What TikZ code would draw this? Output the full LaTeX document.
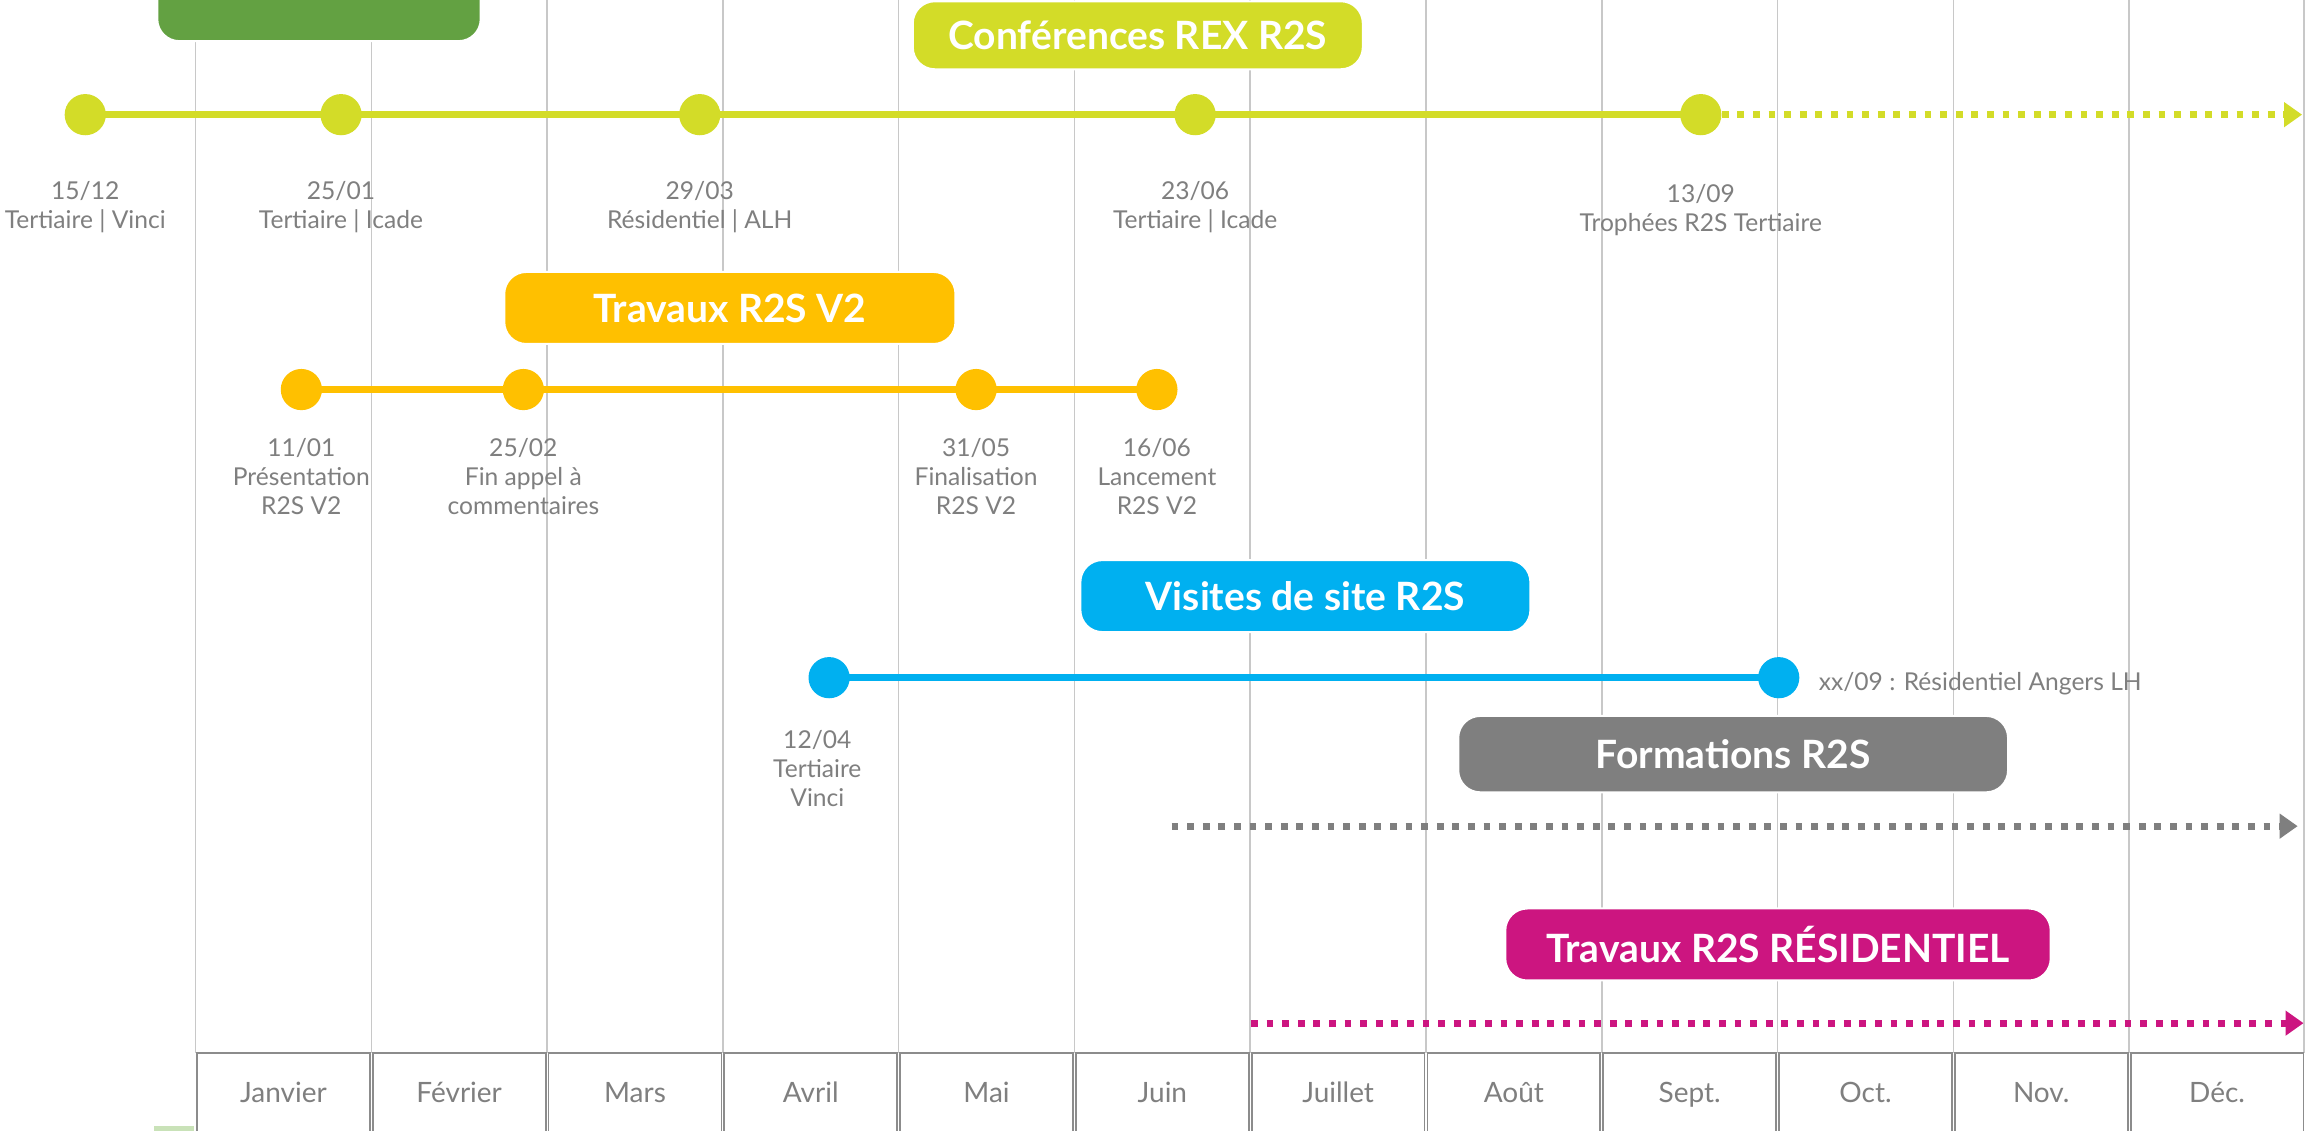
\documentclass[tikz,border=0pt]{standalone}
\usepackage{fontspec}
\setmainfont{Lato}
\usetikzlibrary{arrows.meta}
\definecolor{cLime}{HTML}{D3DC28}
\definecolor{cAmber}{HTML}{FFC000}
\definecolor{cBlue}{HTML}{00B0F0}
\definecolor{cGrey}{HTML}{7F7F7F}
\definecolor{cMag}{HTML}{CC1580}
\definecolor{cGreen}{HTML}{63A142}
\definecolor{cGridl}{HTML}{C8C8C8}
\definecolor{cText}{HTML}{7F7F7F}
\definecolor{cCell}{HTML}{8C8C8C}
\definecolor{cPale}{HTML}{C9E2B8}
\pgfdeclarelayer{back}
\pgfdeclarelayer{bg}
\pgfsetlayers{back,bg,main}
\begin{document}
\begin{tikzpicture}[x=0.735pt,y=-0.735pt,
  gridline/.style={draw=cGridl,line width=0.75pt},
  dotnode/.style={circle,fill=#1,minimum size=20.6pt,inner sep=0pt},
  solidline/.style={draw=#1,line width=3.6pt},
  dotline/.style={draw=#1,line width=3.6pt,dash pattern=on 3.4pt off 4.4pt,
     -{Triangle[length=9pt,width=12pt,fill=#1]}},
  titlebox/.style={fill=#1,draw=white,line width=1pt,rounded corners=11pt,
     text=white,font=\bfseries\fontsize{19.5}{22}\selectfont,inner sep=0pt},
  lbl/.style={text=cText,font=\fontsize{12.3}{14.4}\selectfont,align=center,inner sep=0pt},
  monthcell/.style={draw=cCell,line width=0.9pt},
  monthlbl/.style={text=cText,font=\fontsize{14}{16}\selectfont,inner sep=0pt,anchor=base}]
\useasboundingbox (0,0) rectangle (1568,769);

% grid and month table
\begin{pgfonlayer}{back}
\fill[white] (0,0) rectangle (1568,769);
\foreach \i in {0,...,12}{
  \draw[gridline] ({133+119.58*\i},0) -- ({133+119.58*\i},716);
}
\draw[gridline] (1567,0) -- (1567,716);
\end{pgfonlayer}
\foreach \m [count=\i from 0] in {Janvier,Février,Mars,Avril,Mai,Juin,Juillet,Août,Sept.,Oct.,Nov.,Déc.}{
  \draw[monthcell] ({133+119.58*\i+1},716.5) rectangle ({133+119.58*(\i+1)-1},790);
  \node[monthlbl] (m\i) at ({133+119.58*(\i+0.5)},750) {\m};
}
\fill[cPale] (105,766) rectangle (132,770);

% green box (top-left, mostly cut)
\node[titlebox=cGreen,minimum width=161.7pt,minimum height=42.6pt] (green) at (217,-1) {};

% Row 1: Conferences REX R2S
\node[titlebox=cLime,minimum width=225pt,minimum height=34pt] (t1) at (774,24) {Conférences REX R2S};
\node[dotnode=cLime] (a1) at (58,78) {};
\node[dotnode=cLime] (a2) at (232,78) {};
\node[dotnode=cLime] (a3) at (476,78) {};
\node[dotnode=cLime] (a4) at (813,78) {};
\node[dotnode=cLime] (a5) at (1157,78) {};
\coordinate (a6) at (1566,78);
\begin{pgfonlayer}{bg}
\draw[solidline=cLime] (a1.center) -- (a5.center);
\draw[dotline=cLime] (a5.east) -- (a6);
\end{pgfonlayer}
\node[lbl] (la1) at (58,141) {15/12\\Tertiaire | Vinci};
\node[lbl] (la2) at (232,141) {25/01\\Tertiaire | Icade};
\node[lbl] (la3) at (476,141) {29/03\\Résidentiel | ALH};
\node[lbl] (la4) at (813,141) {23/06\\Tertiaire | Icade};
\node[lbl] (la5) at (1157,143) {13/09\\Trophées R2S Tertiaire};

% Row 2: Travaux R2S V2
\node[titlebox=cAmber,minimum width=225.6pt,minimum height=36pt] (t2) at (496.5,209.5) {Travaux R2S V2};
\node[dotnode=cAmber] (b1) at (205,265) {};
\node[dotnode=cAmber] (b2) at (356,265) {};
\node[dotnode=cAmber] (b3) at (664,265) {};
\node[dotnode=cAmber] (b4) at (787,265) {};
\begin{pgfonlayer}{bg}
\draw[solidline=cAmber] (b1.center) -- (b4.center);
\end{pgfonlayer}
\node[lbl] (lb1) at (205,324) {11/01\\Présentation\\R2S V2};
\node[lbl] (lb2) at (356,324) {25/02\\Fin appel à\\commentaires};
\node[lbl] (lb3) at (664,324) {31/05\\Finalisation\\R2S V2};
\node[lbl] (lb4) at (787,324) {16/06\\Lancement\\R2S V2};

% Row 3: Visites de site R2S
\node[titlebox=cBlue,minimum width=225pt,minimum height=36pt] (t3) at (888,405.5) {Visites de site R2S};
\node[dotnode=cBlue] (c1) at (564,461) {};
\node[dotnode=cBlue] (c2) at (1210,461) {};
\begin{pgfonlayer}{bg}
\draw[solidline=cBlue] (c1.center) -- (c2.center);
\end{pgfonlayer}
\node[lbl] (lc1) at (556,523) {12/04\\Tertiaire\\Vinci};
\node[lbl,anchor=west] (lc2) at (1237,465) {xx/09 : Résidentiel Angers LH};

% Row 4: Formations R2S
\node[titlebox=cGrey,minimum width=274.9pt,minimum height=38.2pt] (t4) at (1179,513) {Formations R2S};
\coordinate (d1) at (797,562);
\coordinate (d2) at (1563,562);
\draw[dotline=cGrey] (d1) -- (d2);

% Row 5: Travaux R2S RESIDENTIEL
\node[titlebox=cMag,minimum width=272.7pt,minimum height=36pt] (t5) at (1209.5,642.5) {Travaux R2S RÉSIDENTIEL};
\coordinate (e1) at (851,696);
\coordinate (e2) at (1567,696);
\draw[dotline=cMag] (e1) -- (e2);
\end{tikzpicture}
\end{document}
